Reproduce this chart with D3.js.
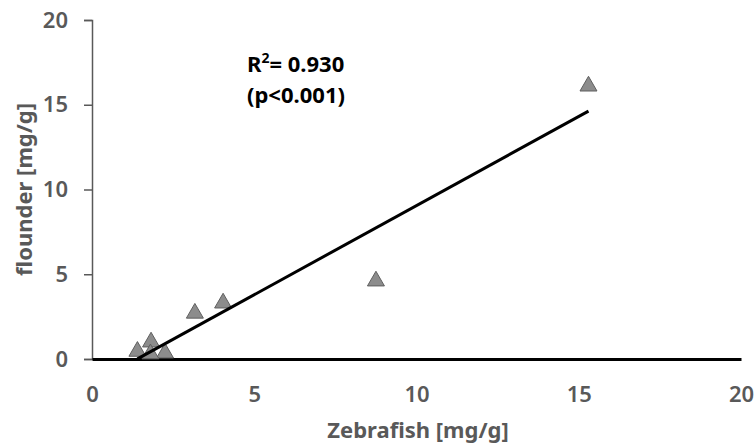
<!DOCTYPE html>
<html>
<head>
<meta charset="utf-8">
<title>Zebrafish vs flounder</title>
<script src="https://d3js.org/d3.v7.min.js"></script>
<style>
  * { margin: 0; padding: 0; }
  body { background: #fff; }
</style>
</head>
<body>
<div id="chart"></div>
<script>
// data
const zebrafish = [15.3, 8.75, 4.04, 3.17, 1.82, 1.4, 2.25, 1.8];
const flounder  = [16.1, 4.6, 3.3, 2.7, 1.0, 0.45, 0.35, 0.3];
const xTicks = [0, 5, 10, 15, 20];
const yTicks = [0, 5, 10, 15, 20];
const annotation = ["R", "2", "= 0.930", "(p<0.001)"];

const width = 756, height = 447;
const margin = { top: 20, right: 15, bottom: 88, left: 92 };
const grey = "#595959";
const font = "'Noto Sans', 'Open Sans', sans-serif";

const svg = d3.select("#chart").append("svg")
  .attr("width", width).attr("height", height);

const x = d3.scaleLinear().domain([0, 20]).range([margin.left, 741]);
const y = d3.scaleLinear().domain([0, 20]).range([359, margin.top]);

// y axis
const yAxis = svg.append("g")
  .attr("transform", `translate(${margin.left},0)`)
  .call(d3.axisLeft(y).tickValues(yTicks).tickSize(8).tickPadding(16));
yAxis.select(".domain").attr("stroke", grey).attr("stroke-width", 1.5);
yAxis.selectAll(".tick line").attr("stroke", grey).attr("stroke-width", 1.5);
yAxis.selectAll(".tick text")
  .attr("fill", grey).style("font-family", font)
  .style("font-size", "22px").style("font-weight", "600");

// x axis (labels only, line drawn thick)
const xAxis = svg.append("g")
  .attr("transform", `translate(0,${y(0)})`)
  .call(d3.axisBottom(x).tickValues(xTicks).tickSize(0).tickPadding(27));
xAxis.select(".domain").attr("stroke", "#000").attr("stroke-width", 3);
xAxis.selectAll(".tick text")
  .attr("fill", grey).style("font-family", font)
  .style("font-size", "22px").style("font-weight", "600");

// axis titles
svg.append("text")
  .attr("x", 418).attr("y", 438)
  .attr("text-anchor", "middle")
  .attr("fill", grey).style("font-family", font)
  .style("font-size", "22px").style("font-weight", "bold")
  .text("Zebrafish [mg/g]");

svg.append("text")
  .attr("transform", `translate(32,${y(10)}) rotate(-90)`)
  .attr("text-anchor", "middle")
  .attr("fill", grey).style("font-family", font)
  .style("font-size", "22px").style("font-weight", "bold")
  .text("flounder [mg/g]");

// least squares fit
const mx = d3.mean(zebrafish), my = d3.mean(flounder);
const sxy = d3.sum(zebrafish, (v, i) => (v - mx) * (flounder[i] - my));
const sxx = d3.sum(zebrafish, v => (v - mx) * (v - mx));
const slope = sxy / sxx, intercept = my - slope * mx;
const [x0, x1] = d3.extent(zebrafish);

// points
const tri = d3.symbol().type(d3.symbolTriangle).size(125);
svg.append("g").selectAll("path")
  .data(zebrafish)
  .join("path")
  .attr("transform", (d, i) => `translate(${x(d)},${y(flounder[i])})`)
  .attr("d", tri)
  .attr("fill", "#8c8c8c")
  .attr("stroke", "#5f5f5f")
  .attr("stroke-width", 1);

svg.append("line")
  .attr("x1", x(x0)).attr("y1", y(slope * x0 + intercept))
  .attr("x2", x(x1)).attr("y2", y(slope * x1 + intercept))
  .attr("stroke", "#000").attr("stroke-width", 3);

// annotation
const t1 = svg.append("text")
  .attr("x", 247).attr("y", 72)
  .style("font-family", font).style("font-size", "22px").style("font-weight", "bold")
  .attr("fill", "#000");
t1.append("tspan").text(annotation[0]);
t1.append("tspan").attr("dy", -9).style("font-size", "14px").text(annotation[1]);
t1.append("tspan").attr("dy", 9).text(annotation[2]);

svg.append("text")
  .attr("x", 247).attr("y", 103)
  .style("font-family", font).style("font-size", "22px").style("font-weight", "bold")
  .attr("fill", "#000")
  .text(annotation[3]);
</script>
</body>
</html>
